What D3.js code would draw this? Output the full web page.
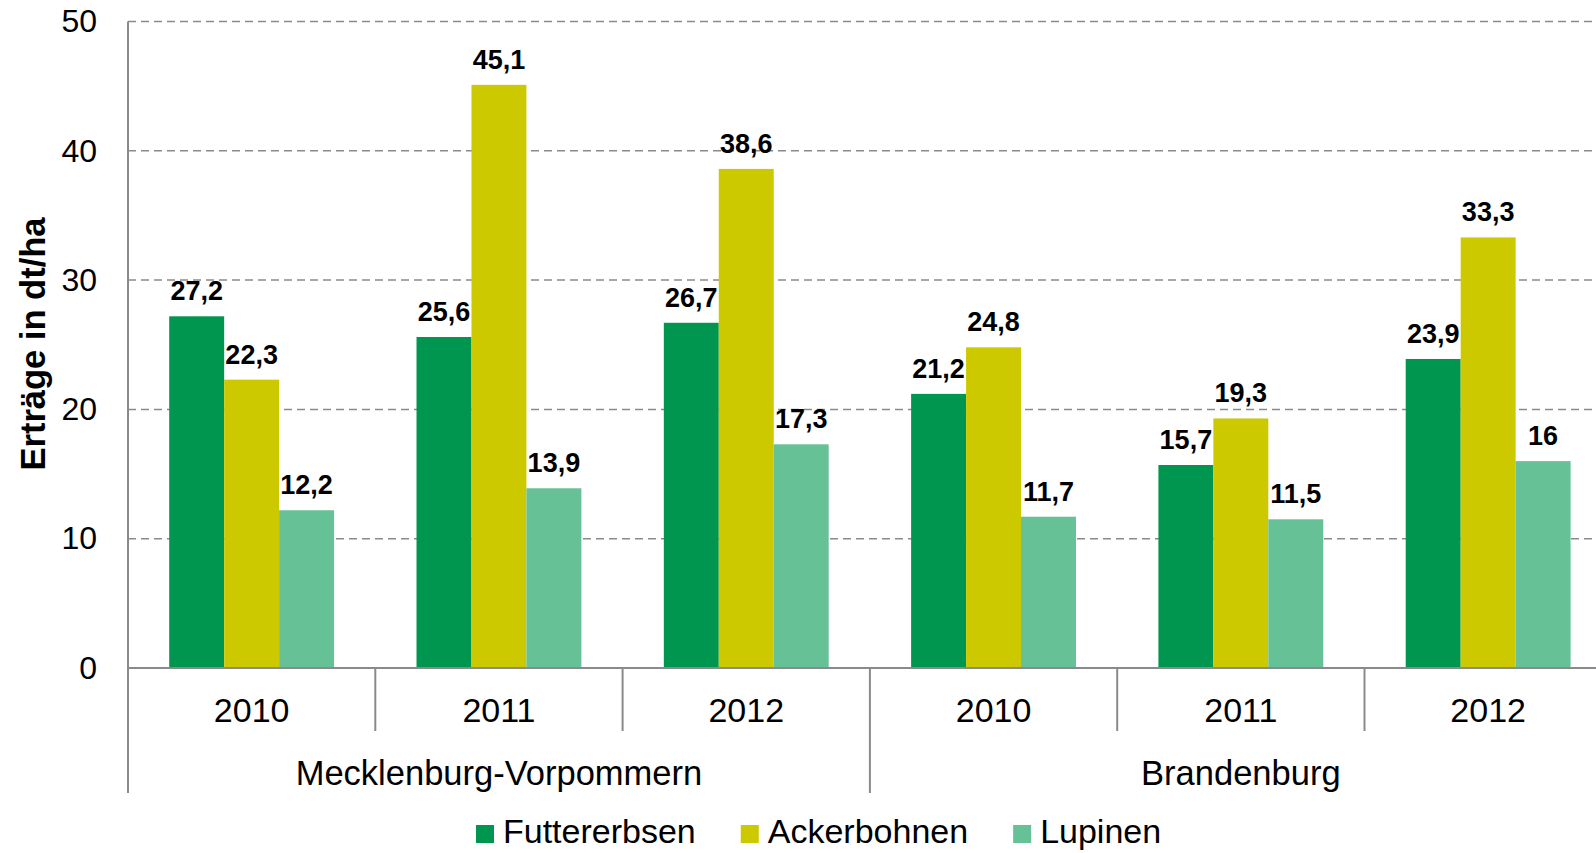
<!DOCTYPE html>
<html>
<head>
<meta charset="utf-8">
<script src="https://cdn.jsdelivr.net/npm/d3@7/dist/d3.min.js"></script>
<style>
  body { margin: 0; background: #fff; }
  svg { display: block; font-family: "Liberation Sans", Arial, sans-serif; }
</style>
</head>
<body>
<svg id="chart" width="1596" height="853"></svg>
<script>
// data
const regions = ["Mecklenburg-Vorpommern", "Brandenburg"];
const years = ["2010", "2011", "2012"];
const seriesNames = ["Futtererbsen", "Ackerbohnen", "Lupinen"];
const futtererbsen = [27.2, 25.6, 26.7, 21.2, 15.7, 23.9];
const ackerbohnen = [22.3, 45.1, 38.6, 24.8, 19.3, 33.3];
const lupinen = [12.2, 13.9, 17.3, 11.7, 11.5, 16];
const yTicks = [0, 10, 20, 30, 40, 50];

const colors = ["#00964f", "#cdc900", "#66c197"];
const seriesValues = [futtererbsen, ackerbohnen, lupinen];

// one row per region/year
const rows = [];
regions.forEach((r, ri) => years.forEach((yr, yi) => {
  const i = ri * years.length + yi;
  rows.push({ key: i, region: r, year: yr, values: seriesValues.map(s => s[i]) });
}));

const svg = d3.select("#chart"),
  plotLeft = 128,
  catWidth = 247.3,
  plotTop = 21.5,
  plotBottom = 668,
  plotRight = plotLeft + catWidth * rows.length;

const x0 = d3.scaleBand()
  .domain(rows.map(d => d.key))
  .range([plotLeft, plotRight]);

const x1 = d3.scaleBand()
  .domain(seriesNames)
  .range([0, x0.bandwidth()])
  .paddingInner(0)
  .paddingOuter(0.75);

const y = d3.scaleLinear()
  .domain([0, 50])
  .range([plotBottom, plotTop]);

const fmt = v => String(v).replace(".", ",");

// gridlines
svg.append("g")
  .selectAll("line")
  .data(yTicks.slice(1))
  .enter().append("line")
    .attr("x1", plotLeft)
    .attr("x2", plotRight)
    .attr("y1", d => y(d))
    .attr("y2", d => y(d))
    .attr("stroke", "#8a8a8a")
    .attr("stroke-width", 1.5)
    .attr("stroke-dasharray", "8,5");

// y tick labels
const yAxis = svg.append("g")
  .attr("transform", "translate(" + plotLeft + ",0)")
  .call(d3.axisLeft(y).tickValues(yTicks).tickSize(0).tickPadding(31).tickFormat(d3.format("d")));
yAxis.select(".domain").remove();
yAxis.selectAll("text")
  .attr("font-size", 32)
  .attr("fill", "#000")
  .attr("font-family", "Liberation Sans, Arial, sans-serif");

// bars
const groups = svg.append("g")
  .selectAll("g")
  .data(rows)
  .enter().append("g")
    .attr("transform", d => "translate(" + x0(d.key) + ",0)");

groups.selectAll("rect")
  .data(d => d.values.map((v, i) => ({ name: seriesNames[i], value: v, color: colors[i] })))
  .enter().append("rect")
    .attr("x", d => x1(d.name))
    .attr("width", x1.bandwidth())
    .attr("y", d => y(d.value))
    .attr("height", d => y(0) - y(d.value))
    .attr("fill", d => d.color);

groups.selectAll("text")
  .data(d => d.values.map((v, i) => ({ name: seriesNames[i], value: v })))
  .enter().append("text")
    .attr("x", d => x1(d.name) + x1.bandwidth() / 2)
    .attr("y", d => y(d.value) - 16)
    .attr("text-anchor", "middle")
    .attr("font-size", 27)
    .attr("font-weight", "bold")
    .text(d => fmt(d.value));

// axes lines
const axisColor = "#8a8a8a";
svg.append("line")
  .attr("x1", plotLeft).attr("x2", plotLeft)
  .attr("y1", plotTop).attr("y2", 793)
  .attr("stroke", axisColor).attr("stroke-width", 2);

svg.append("line")
  .attr("x1", plotLeft).attr("x2", plotRight)
  .attr("y1", plotBottom).attr("y2", plotBottom)
  .attr("stroke", axisColor).attr("stroke-width", 2);

// separators between years and regions
const bounds = d3.range(1, rows.length + 1);
svg.append("g")
  .selectAll("line")
  .data(bounds)
  .enter().append("line")
    .attr("x1", d => plotLeft + d * x0.step())
    .attr("x2", d => plotLeft + d * x0.step())
    .attr("y1", plotBottom)
    .attr("y2", d => d % years.length === 0 ? 793 : 731)
    .attr("stroke", axisColor)
    .attr("stroke-width", 2);

// year labels
svg.append("g")
  .selectAll("text")
  .data(rows)
  .enter().append("text")
    .attr("x", d => x0(d.key) + x0.bandwidth() / 2)
    .attr("y", 722)
    .attr("text-anchor", "middle")
    .attr("font-size", 34)
    .text(d => d.year);

// region labels
svg.append("g")
  .selectAll("text")
  .data(regions)
  .enter().append("text")
    .attr("x", (d, i) => plotLeft + (i + 0.5) * years.length * x0.step())
    .attr("y", 785)
    .attr("text-anchor", "middle")
    .attr("font-size", 34.5)
    .text(d => d);

// y axis title
svg.append("text")
  .attr("transform", "translate(45,344)rotate(-90)")
  .attr("text-anchor", "middle")
  .attr("font-size", 34.5)
  .attr("font-weight", "bold")
  .text("Erträge in dt/ha");

// legend
const legend = svg.append("g");
let lx = 476;
seriesNames.forEach((name, i) => {
  legend.append("rect")
    .attr("x", lx)
    .attr("y", 825)
    .attr("width", 18)
    .attr("height", 18)
    .attr("fill", colors[i]);
  const t = legend.append("text")
    .attr("x", lx + 27)
    .attr("y", 843)
    .attr("font-size", 34)
    .text(name);
  lx += 27 + t.node().getComputedTextLength() + 45;
});
</script>
</body>
</html>
